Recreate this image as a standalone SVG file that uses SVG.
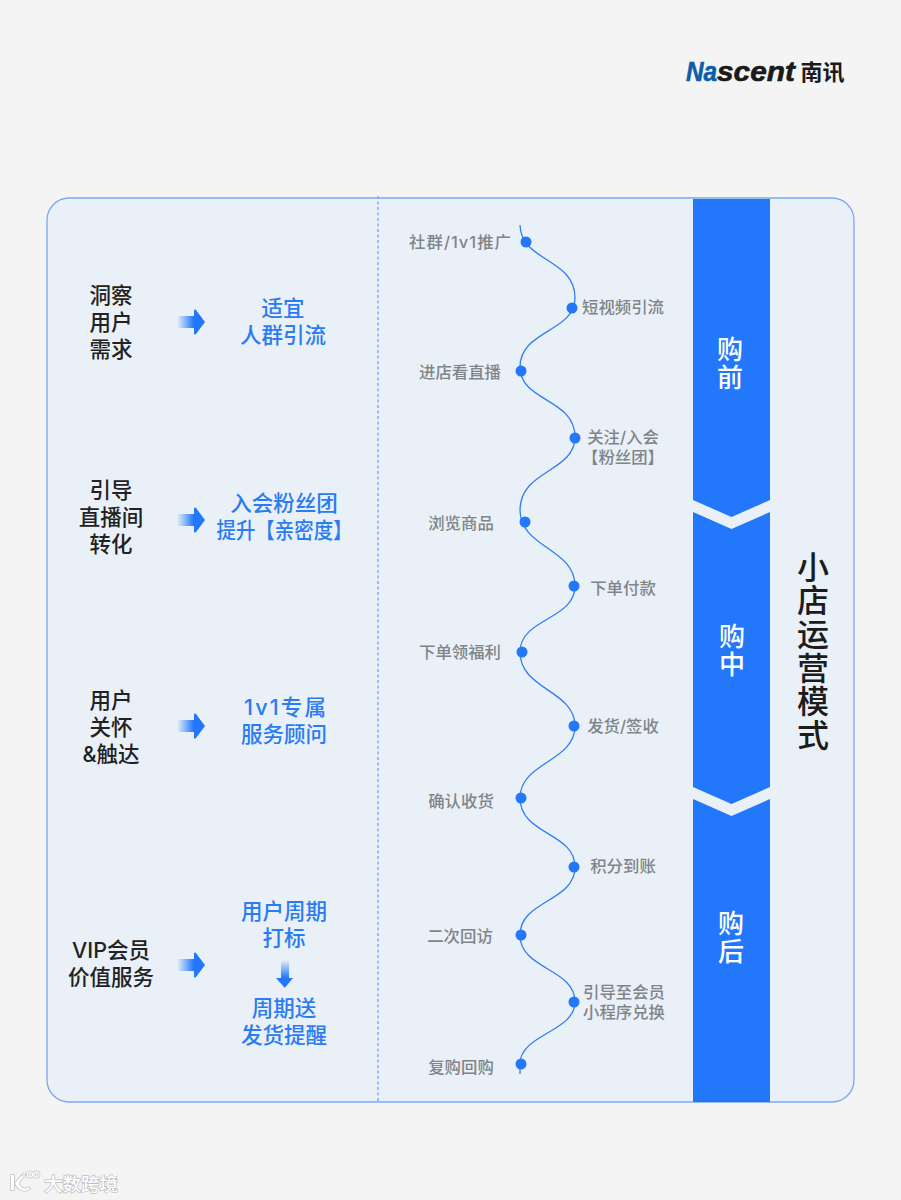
<svg xmlns="http://www.w3.org/2000/svg" width="901" height="1200" viewBox="0 0 901 1200">
<style>
text{font-family:Inter,"Noto Sans CJK SC","Noto Sans",sans-serif;text-anchor:middle}
.k{font-size:21.5px;fill:#222;font-weight:500}
.b{font-size:21.5px;fill:#2b7bf2;font-weight:500}
.g{font-size:16.4px;fill:#7f8589;font-weight:500}
.w{font-size:26px;fill:#fff;font-weight:500}
.t{font-size:32px;fill:#1c1c1c;font-weight:500}
.band{fill:#2277fb}
.dot{fill:#2277fb}
.lg{font-family:"Liberation Sans",sans-serif;font-size:28px;font-weight:700;font-style:italic;text-anchor:start;stroke-width:.6}
.wm{fill:#fff;stroke:#bdbdbd;stroke-width:1.4;paint-order:stroke}
.wo{fill:none;stroke:#c4c4c4;stroke-width:2.600}
.wi{fill:none;stroke:#fff;stroke-width:1.200}
</style>
<defs>
<linearGradient id="ga" x1="0" x2="1" y1="0" y2="0"><stop offset="0" stop-color="#2277fb" stop-opacity="0"/><stop offset=".6" stop-color="#2277fb"/></linearGradient>
<linearGradient id="gd" x1="0" x2="0" y1="0" y2="1"><stop offset="0" stop-color="#2277fb" stop-opacity="0"/><stop offset=".65" stop-color="#2277fb"/></linearGradient>
<path id="arr" d="M177 316H194V310Q195 309 196 310L205 322L196 334Q195 335 194 334V328H177Z" fill="url(#ga)"/>
<path id="wc" d="M24 1172v6M32.500 1174.500a2.600 2.600 0 1 1-5.200 0a2.600 2.600 0 1 1 5.200 0M39 1174.500a2.600 2.600 0 1 1-5.200 0a2.600 2.600 0 1 1 5.200 0"/>
</defs>
<rect width="901" height="1200" fill="#f4f4f4"/>
<g id="logo">
<text class="lg" x="686" y="81" fill="#0f5ca8" stroke="#0f5ca8" textLength="31" lengthAdjust="spacingAndGlyphs">Na</text>
<text class="lg" x="717" y="81" fill="#1a1a1a" stroke="#1a1a1a" textLength="78" lengthAdjust="spacingAndGlyphs">scent</text>
<text x="822.500" y="80" style="font-size:22px;font-weight:700;fill:#1a1a1a">南讯</text>
</g>
<g id="panel">
<rect x="47" y="198" width="807" height="904" rx="22" fill="#e9f0f7" stroke="#7aa9ef" stroke-width="1.3"/>
<line x1="378" y1="196" x2="378" y2="1102" stroke="#7aa9ef" stroke-width="1.4" stroke-dasharray="3 2.500"/>
</g>
<g id="connectors">
<path d="M520 225C521 262 575 258 575 298C575 332 520 330 520 367C520 402 575 398 575 437C575 472 520 470 520 510C520 548 575 548 575 586C575 620 520 618 520 652C520 690 575 690 575 726C575 762 520 762 520 798C520 835 575 832 575 867C575 902 520 900 520 935C520 970 575 968 575 1002C575 1032 520 1034 520 1064V1074" fill="none" stroke="#2f7ef0" stroke-width="1.3"/>
</g>
<g id="n1"><text class="k"><tspan x="111" y="303">洞察</tspan><tspan x="111" y="330">用户</tspan><tspan x="111" y="357">需求</tspan></text></g>
<use href="#arr"/>
<g id="r1"><text class="b"><tspan x="283" y="316">适宜</tspan><tspan x="283" y="343">人群引流</tspan></text></g>
<g id="n2"><text class="k"><tspan x="111" y="498">引导</tspan><tspan x="111" y="525">直播间</tspan><tspan x="111" y="552">转化</tspan></text></g>
<use href="#arr" y="198"/>
<g id="r2"><text class="b" x="284" y="511">入会粉丝团</text><text class="b" x="284.500" y="538" textLength="136" lengthAdjust="spacingAndGlyphs">提升【亲密度】</text></g>
<g id="n3"><text class="k"><tspan x="111" y="708">用户</tspan><tspan x="111" y="735">关怀</tspan><tspan x="111" y="762">&amp;触达</tspan></text></g>
<use href="#arr" y="404"/>
<g id="r3"><text class="b" x="285" y="715" textLength="82" lengthAdjust="spacing">1v1专属</text><text class="b" x="284" y="742">服务顾问</text></g>
<g id="n4"><text class="k"><tspan x="111" y="958">VIP会员</tspan><tspan x="111" y="985">价值服务</tspan></text></g>
<use href="#arr" y="643"/>
<g id="r4"><text class="b"><tspan x="284" y="919">用户周期</tspan><tspan x="284" y="946">打标</tspan><tspan x="284" y="1016">周期送</tspan><tspan x="284" y="1043">发货提醒</tspan></text>
<path d="M281 960H289V978H293L285.500 987Q285 988 284 987L276 978H281Z" fill="url(#gd)"/></g>
<g id="dots">
<circle class="dot" cx="526" cy="242" r="5.500"/><circle class="dot" cx="572" cy="308" r="5.500"/><circle class="dot" cx="521" cy="371" r="5.500"/><circle class="dot" cx="575" cy="438" r="5.500"/><circle class="dot" cx="525" cy="522" r="5.500"/><circle class="dot" cx="574" cy="586" r="5.500"/><circle class="dot" cx="522" cy="652" r="5.500"/><circle class="dot" cx="574" cy="726" r="5.500"/><circle class="dot" cx="521" cy="798" r="5.500"/><circle class="dot" cx="574" cy="867" r="5.500"/><circle class="dot" cx="521" cy="935" r="5.500"/><circle class="dot" cx="574" cy="1002" r="5.500"/><circle class="dot" cx="521" cy="1064" r="5.500"/>
</g>
<g id="labels">
<text class="g" x="460" y="248" textLength="102" lengthAdjust="spacing">社群/1v1推广</text>
<text class="g" x="623" y="313">短视频引流</text>
<text class="g" x="460" y="378">进店看直播</text>
<text class="g"><tspan x="623" y="443">关注/入会</tspan><tspan x="623" y="463">【粉丝团】</tspan></text>
<text class="g" x="461" y="529">浏览商品</text>
<text class="g" x="623" y="594">下单付款</text>
<text class="g" x="460" y="658">下单领福利</text>
<text class="g" x="623" y="732">发货/签收</text>
<text class="g" x="461" y="807">确认收货</text>
<text class="g" x="623" y="872">积分到账</text>
<text class="g" x="460" y="942">二次回访</text>
<text class="g"><tspan x="624" y="998">引导至会员</tspan><tspan x="624" y="1018">小程序兑换</tspan></text>
<text class="g" x="461" y="1073">复购回购</text>
</g>
<g id="band1"><polygon class="band" points="693,199 770,199 770,500 731.500,517 693,500"/><text class="w"><tspan x="730" y="359">购</tspan><tspan x="730" y="387">前</tspan></text></g>
<g id="band2"><polygon class="band" points="693,512 731.500,529 770,512 770,787 731.500,804 693,787"/><text class="w"><tspan x="732" y="646">购</tspan><tspan x="732" y="674">中</tspan></text></g>
<g id="band3"><polygon class="band" points="693,799 731.500,816 770,799 770,1102 693,1102"/><text class="w"><tspan x="731" y="933">购</tspan><tspan x="731" y="961">后</tspan></text></g>
<g id="title"><text class="t"><tspan x="813" y="579">小</tspan><tspan x="813" y="612">店</tspan><tspan x="813" y="646">运</tspan><tspan x="813" y="680">营</tspan><tspan x="813" y="713">模</tspan><tspan x="813" y="747">式</tspan></text></g>
<g id="watermark">
<path class="wm" d="M11 1175h3v15h-3zM15 1183l7-8h3l-6 8c1 5 6 7 10 4l1 2c-6 4-13 1-15-6z"/>
<use href="#wc" class="wo"/><use href="#wc" class="wi"/>
<text class="wm" x="81" y="1191" style="font-size:18.500px;font-weight:500">大数跨境</text>
</g>
</svg>
